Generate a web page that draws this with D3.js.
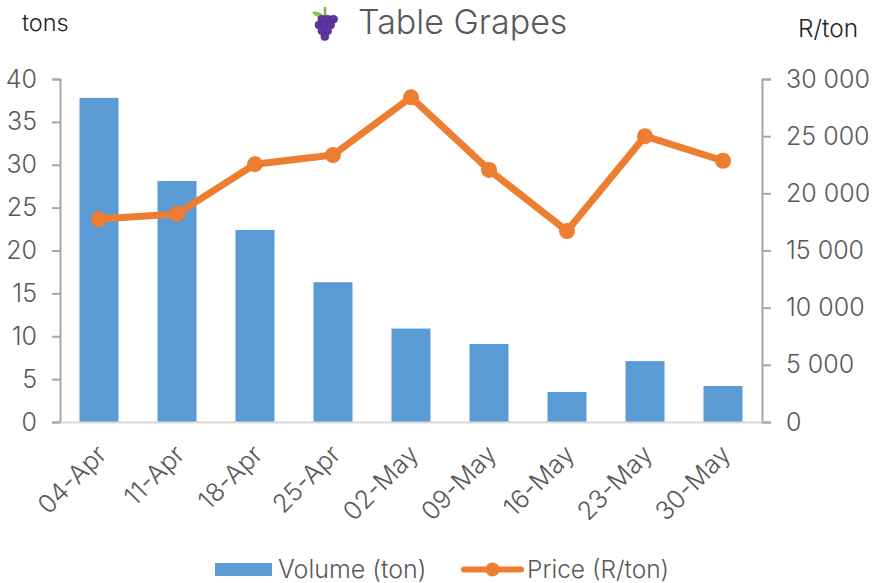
<!DOCTYPE html>
<html><head><meta charset="utf-8">
<script src="https://cdn.jsdelivr.net/npm/d3@7"></script>
<style>
html,body{margin:0;padding:0;background:#fff}
svg{display:block}
text{font-family:Inter,Lato,sans-serif;font-weight:300}
</style></head><body>
<script>
const categories=["04-Apr","11-Apr","18-Apr","25-Apr","02-May","09-May","16-May","23-May","30-May"];
const volume=[37.8,28.1,22.4,16.3,10.9,9.1,3.5,7.1,4.2];
const price=[17750,18200,22550,23350,28400,22050,16700,25000,22850];
const leftTicks=[0,5,10,15,20,25,30,35,40];
const rightTicks=[0,5000,10000,15000,20000,25000,30000];
const grapeBerries=[[0.5,-1],[1.5,-1],[2.5,-1],[0,0],[1,0],[2,0],[0.5,1],[1.5,1],[1,2]];

const W=884,H=583;
const svg=d3.select("body").append("svg").attr("width",W).attr("height",H);
const x=d3.scaleBand().domain(categories).range([60,762]).paddingInner(0.5).paddingOuter(0.25);
const yL=d3.scaleLinear().domain([0,40]).range([422,79]);
const yR=d3.scaleLinear().domain([0,30000]).range([422,79]);
const grey="#595959",axisGrey="#a6a6a6",blue="#5b9bd5",orange="#ed7d31";
const fmt=v=>d3.format(",")(v).replace(/,/g," ");
const font="Inter,Lato,sans-serif";

svg.selectAll("rect.bar").data(volume).join("rect").attr("class","bar")
 .attr("x",(d,i)=>x(categories[i])).attr("width",x.bandwidth())
 .attr("y",d=>yL(d)).attr("height",d=>yL(0)-yL(d)).attr("fill",blue);

const axL=svg.append("g").attr("transform","translate(60,0)")
 .call(d3.axisLeft(yL).tickValues(leftTicks).tickSize(8).tickPadding(15));
const axR=svg.append("g").attr("transform","translate(762,0)")
 .call(d3.axisRight(yR).tickValues(rightTicks).tickFormat(fmt).tickSize(9).tickPadding(15));
const axB=svg.append("g").attr("transform","translate(0,422)")
 .call(d3.axisBottom(x).tickSize(0).tickPadding(0));
[axL,axR].forEach(a=>{
 a.selectAll("path,line").attr("stroke",axisGrey).attr("stroke-width",2);
 a.selectAll("text").attr("fill",grey).style("font-size","25px").style("font-family",font).style("font-weight",300);
});
axB.select("path").attr("stroke","#d9d9d9").attr("stroke-width",2);
axB.selectAll("text").attr("fill",grey).style("font-size","25.5px").style("font-family",font).style("font-weight",300)
 .attr("text-anchor","end").attr("dy",0).attr("y",0)
 .attr("transform","translate(9,34) rotate(-45)");

const line=d3.line().x((d,i)=>x(categories[i])+x.bandwidth()/2).y(d=>yR(d));
svg.append("path").datum(price).attr("d",line).attr("fill","none")
 .attr("stroke",orange).attr("stroke-width",7).attr("stroke-linecap","round").attr("stroke-linejoin","round");
svg.selectAll("circle.pt").data(price).join("circle").attr("class","pt")
 .attr("cx",(d,i)=>x(categories[i])+x.bandwidth()/2).attr("cy",d=>yR(d)).attr("r",8).attr("fill",orange);

svg.append("text").attr("x",22).attr("y",31).attr("fill","#222").style("font-size","23.5px").text("tons");
svg.append("text").attr("x",798).attr("y",37).attr("fill","#222").style("font-size","24.5px").text("R/ton");
svg.append("text").attr("x",358).attr("y",34).attr("fill",grey).style("font-size","34px").text("Table Grapes");

// grape icon
const g=svg.append("g").attr("transform","translate(319,17)");
g.append("path").attr("d","M-7,-5 Q1,-7 6,1 Q-3,2 -7,-5Z").attr("fill","#8bc34a");
g.append("path").attr("d","M6,-10 L6,0").attr("stroke","#7cb342").attr("stroke-width",2.5);
g.selectAll("circle").data(grapeBerries).join("circle")
 .attr("cx",d=>d[0]*5.8).attr("cy",d=>d[1]*5.8+8).attr("r",4)
 .attr("fill","#5e35a1").attr("stroke","#4a2a85").attr("stroke-width",.6);

// legend
svg.append("rect").attr("x",215).attr("y",563).attr("width",57).attr("height",13).attr("fill",blue);
svg.append("text").attr("x",278).attr("y",578).attr("fill",grey).style("font-size","25px").text("Volume (ton)");
svg.append("line").attr("x1",464).attr("x2",521).attr("y1",569.5).attr("y2",569.5)
 .attr("stroke",orange).attr("stroke-width",6).attr("stroke-linecap","round");
svg.append("circle").attr("cx",492.5).attr("cy",569.5).attr("r",7).attr("fill",orange);
svg.append("text").attr("x",527).attr("y",578).attr("fill",grey).style("font-size","24.5px").text("Price (R/ton)");
</script></body></html>
